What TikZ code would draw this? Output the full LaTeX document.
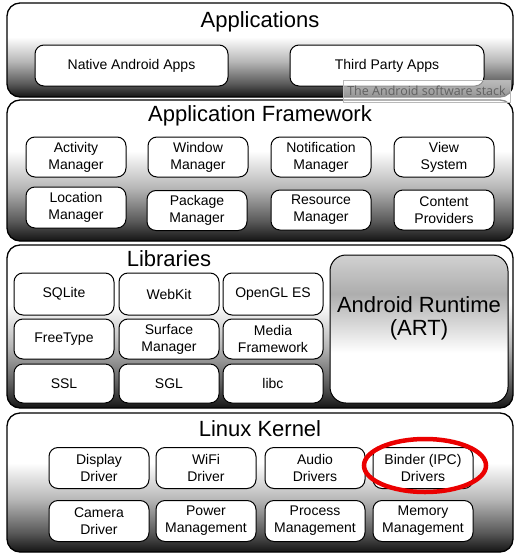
\documentclass[tikz,border=0pt]{standalone}
\usepackage{fontspec}
\setmainfont{Liberation Sans}
\newfontfamily\wmfont{Open Sans}
\usetikzlibrary{shapes.geometric}
\pgfdeclareverticalshading{layershade}{100bp}{color(0bp)=(black!92); color(25bp)=(black!92); color(32bp)=(black!65); color(44bp)=(black!28); color(57bp)=(white); color(100bp)=(white)}
\pgfdeclareverticalshading{artshade}{100bp}{color(0bp)=(white); color(25bp)=(white); color(42bp)=(white); color(62bp)=(black!32); color(75bp)=(black!18); color(100bp)=(black!18)}
\begin{document}
\begin{tikzpicture}[x=1pt,y=-1pt,
  layer/.style={draw=black, line width=1.3pt, rounded corners=13pt, shading=layershade, inner sep=0pt, minimum width=506pt},
  comp/.style={draw=black, line width=1pt, rounded corners=9pt, fill=white, inner sep=0pt, align=center, font=\fontsize{14}{17}\selectfont, minimum width=100pt, minimum height=41pt},
  ltitle/.style={anchor=base, font=\fontsize{22}{26}\selectfont},
]
\useasboundingbox (0,0) rectangle (530,557);
\fill[white] (0,0) rectangle (530,557);

% layers
\node[layer, minimum height=94pt] (apps) at (260,50) {};
\node[layer, minimum height=141pt] (fw) at (260,170.5) {};
\node[layer, minimum height=163pt] (libs) at (260,326.5) {};
\node[layer, minimum height=139pt] (kern) at (260,482.5) {};

% titles
\node[ltitle] (tapps) at (260,27.5) {Applications};
\node[ltitle] (tfw) at (260,121.5) {Application Framework};
\node[ltitle] (tlibs) at (169,266) {Libraries};
\node[ltitle] (tkern) at (260,436.5) {Linux Kernel};

% applications
\node[comp, minimum width=193pt] (native) at (131.5,65.5) {Native Android Apps};
\node[comp, minimum width=194pt] (third) at (387,65.5) {Third Party Apps};

% framework
\node[comp, minimum height=40pt] (actm) at (76,157) {Activity\\Manager};
\node[comp, minimum height=40pt] (winm) at (198,157) {Window\\Manager};
\node[comp, minimum height=40pt] (notm) at (321,157) {Notification\\Manager};
\node[comp, minimum height=40pt] (views) at (444,157) {View\\System};
\node[comp] (locm) at (76,207.5) {Location\\Manager};
\node[comp, minimum height=40pt] (pkgm) at (197,210.5) {Package\\Manager};
\node[comp, minimum height=40pt] (resm) at (321,210) {Resource\\Manager};
\node[comp, minimum height=40pt] (cprov) at (444,210) {Content\\Providers};

% libraries
\node[comp, minimum height=42pt] (sqlite) at (64,294) {SQLite};
\node[comp, minimum height=42pt] (webkit) at (169,294) {WebKit};
\node[comp, minimum height=42pt] (opengl) at (273,294) {OpenGL ES};
\node[comp, minimum height=40pt] (freetype) at (64,339) {FreeType};
\node[comp, minimum height=40pt] (surface) at (169,339) {Surface\\Manager};
\node[comp, minimum height=40pt] (media) at (273,339) {Media\\Framework};
\node[comp, minimum height=39pt] (ssl) at (64,383.5) {SSL};
\node[comp, minimum height=39pt] (sgl) at (169,383.5) {SGL};
\node[comp, minimum height=39pt] (libc) at (273,383.5) {libc};
\node[draw=black, line width=1pt, rounded corners=16pt, shading=artshade, minimum width=178pt, minimum height=148pt, inner sep=0pt] (art) at (419,329) {};
\node[align=center, font=\fontsize{22}{23}\selectfont] (artlabel) at (419,318) {Android Runtime\\(ART)};

% kernel
\node[comp] (display) at (99,468) {Display\\Driver};
\node[comp] (wifi) at (206,468) {WiFi\\Driver};
\node[comp] (audio) at (315,468) {Audio\\Drivers};
\node[comp] (binder) at (423,468) {Binder (IPC)\\Drivers};
\node[comp] (camera) at (99,521) {Camera\\Driver};
\node[comp] (power) at (206,521) {Power\\Management};
\node[comp] (process) at (315,521) {Process\\Management};
\node[comp] (memory) at (423,521) {Memory\\Management};

% highlight
\node[draw=red!92!black, line width=4.5pt, ellipse, minimum width=122pt, minimum height=53pt, inner sep=0pt] (highlight) at (425,465.5) {};

% watermark
\node[draw=gray!55, fill=white, fill opacity=0.55, draw opacity=1, text opacity=1, minimum width=167pt, minimum height=22pt, inner sep=0pt, text=black!62, font=\wmfont\fontsize{12.5}{14}\selectfont] (wm) at (426.5,91) {The Android software stack};
\end{tikzpicture}
\end{document}
